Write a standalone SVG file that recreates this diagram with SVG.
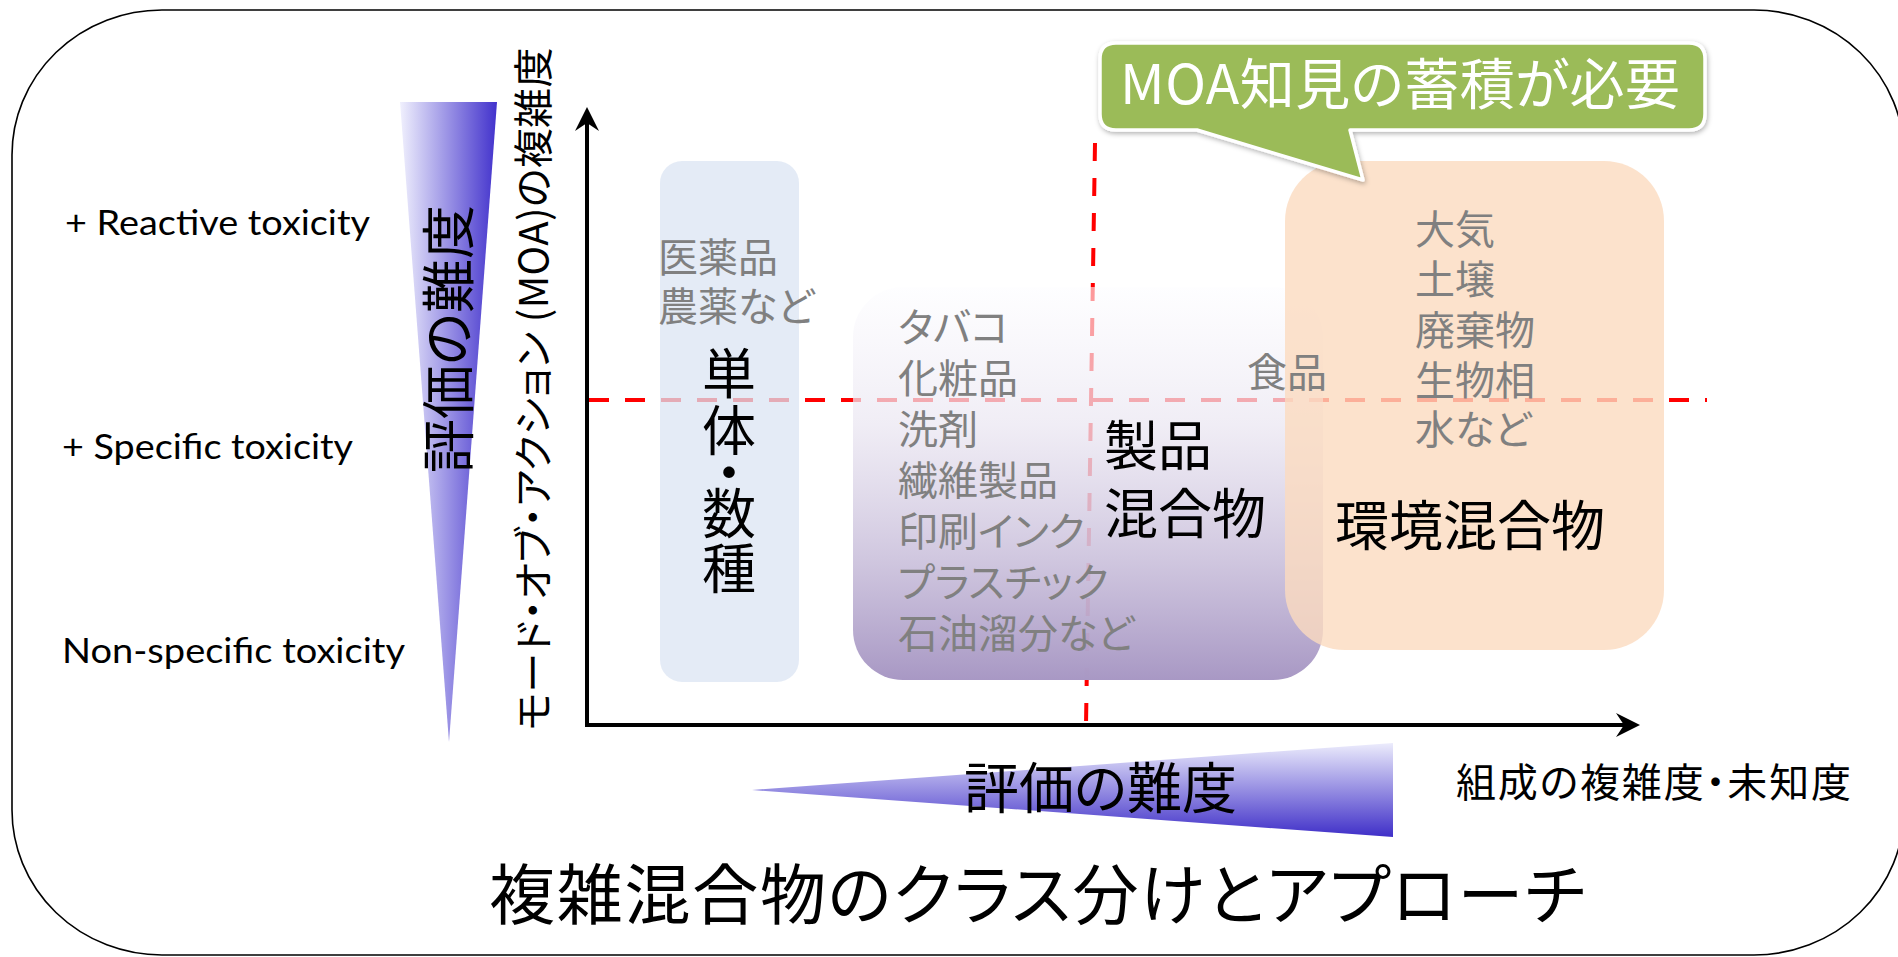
<svg xmlns="http://www.w3.org/2000/svg" width="1898" height="957" viewBox="0 0 1898 957">
<defs>
<style>
.jp{font-family:"Noto Sans CJK JP","Noto Sans CJK SC",sans-serif;font-feature-settings:"palt";}
.en{font-family:Lato,"Liberation Sans",sans-serif;font-size:34px;fill:#000;}
.gray{fill:#808080;font-size:40px;}
.big{fill:#000;font-size:54px;}
.red{stroke:#ff0000;stroke-width:4;fill:none;}
.axis{stroke:#000;stroke-width:4;fill:none;}
</style>
<linearGradient id="gLeft" x1="0" y1="0" x2="1" y2="0">
<stop offset="0" stop-color="#f0f0fd"/>
<stop offset="1" stop-color="#4232cc"/>
</linearGradient>
<linearGradient id="gBottom" x1="0" y1="0" x2="0" y2="1">
<stop offset="0" stop-color="#ececfc"/>
<stop offset="1" stop-color="#3f2fc8"/>
</linearGradient>
<linearGradient id="gPurple" x1="0" y1="0" x2="0" y2="1">
<stop offset="0" stop-color="#fdfdff" stop-opacity="0.6"/>
<stop offset="0.35" stop-color="#ebe7f2" stop-opacity="0.75"/>
<stop offset="0.7" stop-color="#cbc1dc" stop-opacity="0.92"/>
<stop offset="1" stop-color="#a898c4" stop-opacity="1"/>
</linearGradient>
<filter id="shadow" x="-10%" y="-20%" width="120%" height="150%">
<feDropShadow dx="1" dy="2" stdDeviation="2.5" flood-color="#000" flood-opacity="0.3"/>
</filter>
</defs>

<rect id="frame" x="12" y="10" width="1892" height="945" rx="150" ry="145" fill="none" stroke="#000" stroke-width="1.6"/>

<g id="difficulty-vertical">
<polygon points="400,102 497,102 449,742" fill="url(#gLeft)"/>
<text class="jp" font-size="54" fill="#000" text-anchor="middle" transform="translate(469,339) rotate(-90)">評価の難度</text>
</g>

<g id="difficulty-horizontal">
<polygon points="752,790 1393,743 1393,837" fill="url(#gBottom)"/>
<text class="jp" font-size="55" fill="#000" x="964" y="808">評価の難度</text>
</g>

<g id="toxicity-labels">
<text class="en" x="65" y="235" textLength="305" lengthAdjust="spacingAndGlyphs">+ Reactive toxicity</text>
<text class="en" x="62" y="459" textLength="291" lengthAdjust="spacingAndGlyphs">+ Specific toxicity</text>
<text class="en" x="62" y="663" textLength="343" lengthAdjust="spacingAndGlyphs">Non-specific toxicity</text>
</g>

<g id="connectors">
<line class="red" x1="589" y1="400" x2="1707" y2="400" stroke-dasharray="20 16"/>
<line class="red" x1="1095" y1="143" x2="1086" y2="725" stroke-dasharray="18 17"/>
</g>

<g id="box-single">
<rect x="660" y="161" width="139" height="521" rx="22" fill="#dbe4f3" fill-opacity="0.75"/>
</g>
<g id="box-product">
<rect x="853" y="287" width="470" height="393" rx="50" fill="url(#gPurple)"/>
</g>
<g id="box-env">
<rect x="1285" y="161" width="379" height="489" rx="60" fill="#fbdbbf" fill-opacity="0.8"/>
</g>

<g id="single-text">
<text class="jp gray"><tspan x="658" y="272">医薬品</tspan><tspan x="658" y="321">農薬など</tspan></text>
<text class="jp big" text-anchor="middle"><tspan x="729" y="394">単</tspan><tspan x="729" y="451">体</tspan><tspan x="729" y="493">・</tspan><tspan x="729" y="534">数</tspan><tspan x="729" y="589">種</tspan></text>
</g>

<g id="product-text">
<text class="jp gray"><tspan x="898" y="342">タバコ</tspan><tspan x="898" y="393">化粧品</tspan><tspan x="898" y="444">洗剤</tspan><tspan x="898" y="495">繊維製品</tspan><tspan x="898" y="546">印刷インク</tspan><tspan x="898" y="597">プラスチック</tspan><tspan x="898" y="648">石油溜分など</tspan></text>
<text class="jp big"><tspan x="1104" y="466">製品</tspan><tspan x="1104" y="534">混合物</tspan></text>
</g>

<g id="food-text">
<text class="jp gray" x="1247" y="387">食品</text>
</g>

<g id="env-text">
<text class="jp gray"><tspan x="1415" y="244">大気</tspan><tspan x="1415" y="294">土壌</tspan><tspan x="1415" y="345">廃棄物</tspan><tspan x="1415" y="395">生物相</tspan><tspan x="1415" y="444">水など</tspan></text>
<text class="jp big" x="1335" y="546" font-size="55">環境混合物</text>
</g>

<g id="axes">
<path class="axis" d="M587,118 V725 H1628"/>
<path d="M587,107 L599,131 L587,123 L575,131 Z" fill="#000"/>
<path d="M1640,725 L1616,713 L1624,725 L1616,737 Z" fill="#000"/>
<text class="jp" font-size="40" fill="#000" text-anchor="middle" transform="translate(548,389) rotate(-90)" textLength="683">モード・オブ・アクション (MOA)の複雑度</text>
<text class="jp" font-size="40" fill="#000" x="1456" y="797" textLength="395">組成の複雑度・未知度</text>
</g>

<g id="bubble">
<path d="M1116,43 H1689 Q1705,43 1705,59 V114 Q1705,130 1689,130 H1350 L1363,180 L1197,130 H1116 Q1100,130 1100,114 V59 Q1100,43 1116,43 Z" fill="#9bbb59" stroke="#fff" stroke-width="3.5" stroke-linejoin="round" filter="url(#shadow)"/>
<text class="jp" font-size="55" fill="#fff" x="1120" y="104" textLength="560">MOA知見の蓄積が必要</text>
</g>

<g id="title">
<text class="jp" font-size="66" fill="#000" x="489" y="919" textLength="1096">複雑混合物のクラス分けとアプローチ</text>
</g>
</svg>
